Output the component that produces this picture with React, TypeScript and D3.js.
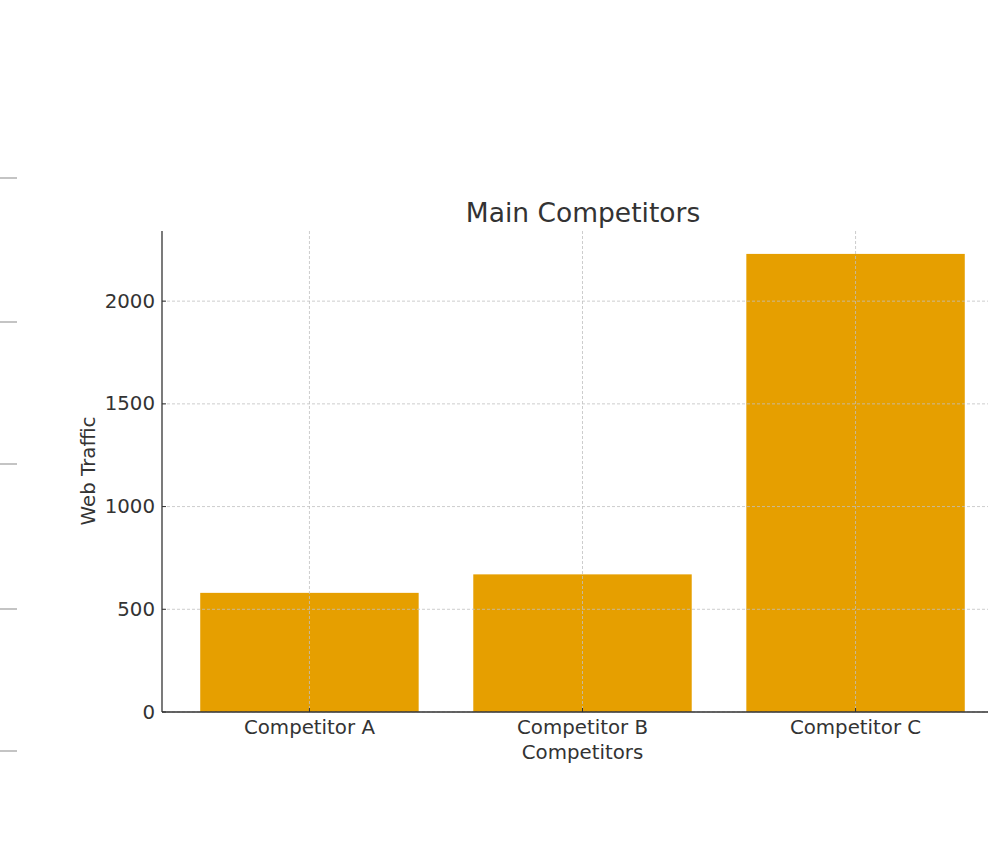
import React from "react";
import * as d3 from "d3";

const categories = ["Competitor A", "Competitor B", "Competitor C"];
const traffic = [580, 670, 2230];
const yTicks = [0, 500, 1000, 1500, 2000];
const sideMarks = [178, 322, 464, 609, 751];

export default function App() {
  const W = 988, H = 843;
  const left = 162, bottom = 712, top = 231;
  const x = d3.scaleLinear().domain([-0.54, 2.54]).range([left, 1003]);
  const yMax = (d3.max(traffic) as number) * 1.05;
  const y = d3.scaleLinear().domain([0, yMax]).range([bottom, top]);
  const bw = x(0.4) - x(-0.4);
  const font = "DejaVu Sans, sans-serif";
  const fs = 19.8;
  return (
    <svg width={W} height={H} style={{ position: "absolute", left: 0, top: 0, background: "#fff" }} fontFamily={font}>
      <rect x={0} y={0} width={W} height={H} fill="#fff" />
      {sideMarks.map((m, i) => (
        <line key={i} x1={0} x2={17} y1={m} y2={m} stroke="#c4c4c4" strokeWidth={2} />
      ))}
      {traffic.map((v, i) => (
        <rect key={i} x={x(i) - bw / 2} y={y(v)} width={bw} height={bottom - y(v)} fill="#E69F00" />
      ))}
      {yTicks.map((t) => (
        <line key={"gy" + t} x1={left} x2={W} y1={y(t)} y2={y(t)} stroke="#c0c0c0" strokeWidth={0.8} strokeDasharray="3,2" />
      ))}
      {categories.map((c, i) => (
        <line key={"gx" + i} x1={x(i)} x2={x(i)} y1={top} y2={bottom} stroke="#c0c0c0" strokeWidth={0.8} strokeDasharray="3,2" />
      ))}
      <line x1={left} x2={left} y1={top} y2={bottom} stroke="#333" strokeWidth={1.3} />
      <line x1={left} x2={W} y1={bottom} y2={bottom} stroke="#333" strokeWidth={1.3} />
      {yTicks.map((t) => (
        <g key={"ty" + t}>
          <line x1={left} x2={left + 4} y1={y(t)} y2={y(t)} stroke="#333" strokeWidth={1} />
          <text x={left - 7} y={y(t)} textAnchor="end" dominantBaseline="central" fontSize={fs} fill="#333">{t}</text>
        </g>
      ))}
      {categories.map((c, i) => (
        <g key={"tx" + i}>
          <line x1={x(i)} x2={x(i)} y1={bottom} y2={bottom - 4} stroke="#333" strokeWidth={1} />
          <text x={x(i)} y={727} textAnchor="middle" dominantBaseline="central" fontSize={fs} fill="#333">{c}</text>
        </g>
      ))}
      <text x={x(1)} y={752} textAnchor="middle" dominantBaseline="central" fontSize={fs} fill="#333">Competitors</text>
      <text transform={`translate(88,471) rotate(-90)`} textAnchor="middle" dominantBaseline="central" fontSize={fs} fill="#333">Web Traffic</text>
      <text x={583} y={212} textAnchor="middle" dominantBaseline="central" fontSize={26.5} fill="#333">Main Competitors</text>
    </svg>
  );
}
